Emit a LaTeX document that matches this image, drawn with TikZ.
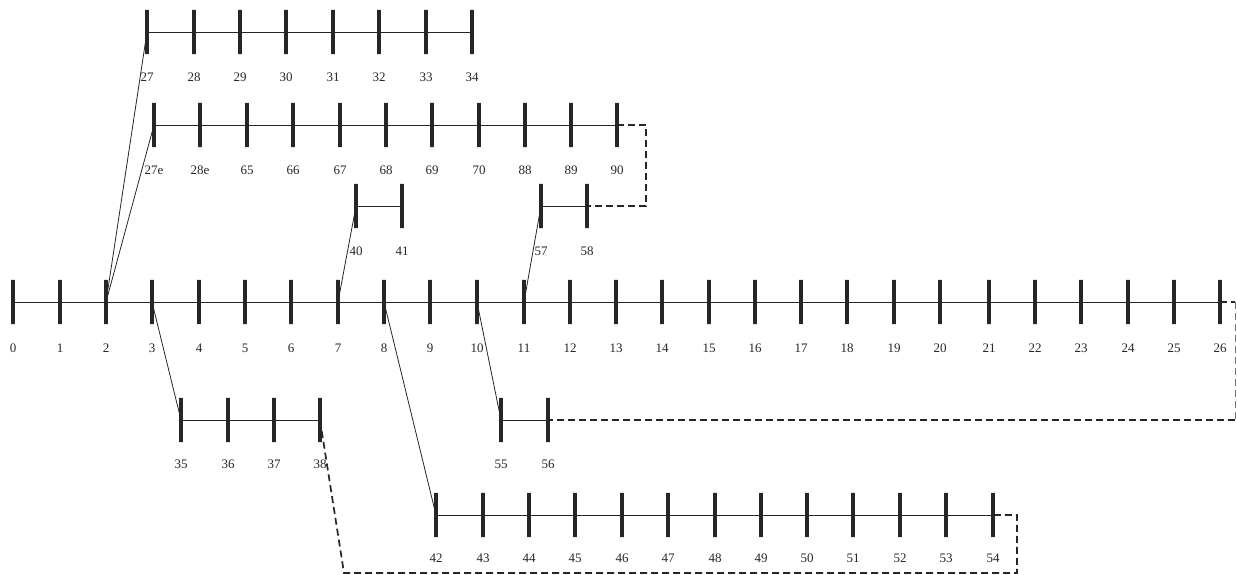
\documentclass[tikz,border=0pt]{standalone}
\usepackage{fontspec}
\setmainfont{Liberation Serif}
\begin{document}
\begin{tikzpicture}[x=1pt,y=-1pt,
  bus/.style={rectangle, draw=black!85, line width=3.6pt, inner sep=0pt,
              minimum width=0pt, minimum height=44.4pt},
  num/.style={font=\fontsize{13}{15}\selectfont, inner sep=0pt, text=black!85},
  feeder/.style={line width=0.8pt, draw=black!85},
  tie/.style={line width=1.7pt, draw=black!85, dash pattern=on 7pt off 4pt},
  tielight/.style={line width=0.8pt, draw=black!55, dash pattern=on 7pt off 4pt}]
\useasboundingbox (0,0) rectangle (1237,575);

% main feeder, buses 0..26
\foreach \n/\x in {0/13,1/60,2/106,3/152,4/199,5/245,6/291,7/338,8/384,9/430,
                   10/477,11/524,12/570,13/616,14/662,15/709,16/755,17/801,18/847,
                   19/894,20/940,21/989,22/1035,23/1081,24/1128,25/1174,26/1220}
  {\node[bus] (b\n) at (\x,302) {}; \node[num] (l\n) at (\x,348) {\n};}

% upper lateral 27..34
\foreach \n/\x in {27/147,28/194,29/240,30/286,31/333,32/379,33/426,34/472}
  {\node[bus] (b\n) at (\x,32) {}; \node[num] (l\n) at (\x,77) {\n};}

% second lateral 27e..90
\foreach \n/\x in {27e/154,28e/200,65/247,66/293,67/340,68/386,69/432,70/479,
                   88/525,89/571,90/617}
  {\node[bus] (b\n) at (\x,125) {}; \node[num] (l\n) at (\x,170) {\n};}

% short laterals 40-41 and 57-58
\foreach \n/\x in {40/356,41/402,57/541,58/587}
  {\node[bus] (b\n) at (\x,206) {}; \node[num] (l\n) at (\x,251) {\n};}

% laterals 35..38 and 55-56
\foreach \n/\x in {35/181,36/228,37/274,38/320,55/501,56/548}
  {\node[bus] (b\n) at (\x,420) {}; \node[num] (l\n) at (\x,464) {\n};}

% lower lateral 42..54
\foreach \n/\x in {42/436,43/483,44/529,45/575,46/622,47/668,48/715,49/761,
                   50/807,51/853,52/900,53/946,54/993}
  {\node[bus] (b\n) at (\x,515) {}; \node[num] (l\n) at (\x,558) {\n};}

% line sections along each lateral
\draw[feeder] (b0.center) -- (b26.center);
\draw[feeder] (b27.center) -- (b34.center);
\draw[feeder] (b27e.center) -- (b90.center);
\draw[feeder] (b40.center) -- (b41.center);
\draw[feeder] (b57.center) -- (b58.center);
\draw[feeder] (b35.center) -- (b38.center);
\draw[feeder] (b55.center) -- (b56.center);
\draw[feeder] (b42.center) -- (b54.center);

% branch connections
\draw[feeder] (b2.center) -- (b27.center);
\draw[feeder] (b2.center) -- (b27e.center);
\draw[feeder] (b7.center) -- (b40.center);
\draw[feeder] (b11.center) -- (b57.center);
\draw[feeder] (b3.center) -- (b35.center);
\draw[feeder] (b8.center) -- (b42.center);
\draw[feeder] (b10.center) -- (b55.center);

% tie lines (normally open)
\coordinate (t1) at (646,125);
\coordinate (t2) at (646,206);
\draw[tie] (b90.center) -- (t1) -- (t2) -- (b58.center);

\coordinate (r1) at (1235,302);
\coordinate (r2) at (1235,420);
\draw[tie] (b26.center) -- (r1);
\draw[tielight] (r1) -- (r2);
\draw[tie] (r2) -- (b56.center);

\coordinate (d1) at (344,573);
\coordinate (d2) at (1017,573);
\coordinate (d3) at (1017,515);
\draw[tie] (b38.center) -- (d1) -- (d2) -- (d3) -- (b54.center);
\end{tikzpicture}
\end{document}
